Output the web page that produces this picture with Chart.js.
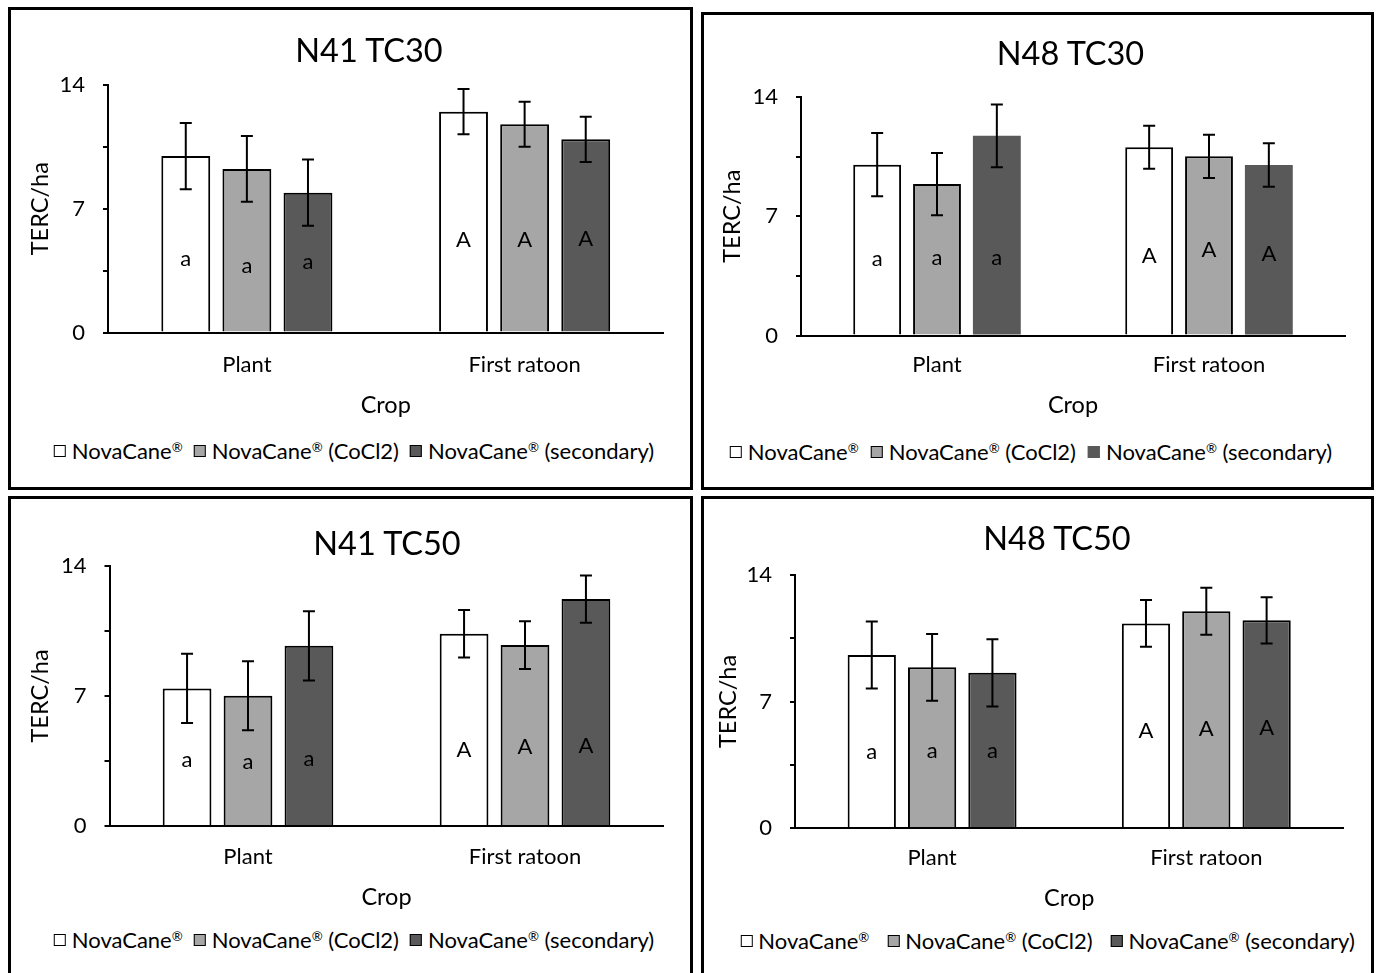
<!DOCTYPE html>
<html>
<head>
<meta charset="utf-8">
<title>TERC/ha by crop</title>
<script src="https://cdn.jsdelivr.net/npm/chart.js@4.4.1/dist/chart.umd.min.js"></script>
<style>
  html, body { margin: 0; padding: 0; background: #fff; }
  body { position: relative; width: 1379px; height: 973px; overflow: hidden; font-family: Lato, sans-serif; color: #000; }
  .frame { position: absolute; border: 3px solid #000; box-sizing: border-box; }
  .panel-canvas { position: absolute; }
  .title { position: absolute; font-size: 32.5px; line-height: 1; white-space: nowrap; transform: translate(-50%, -50%); }
  .legend { position: absolute; display: flex; align-items: center; font-size: 22px; line-height: 1; white-space: nowrap; transform: translate(-50%, -50%); }
  .legend .item { display: flex; align-items: center; }
  .legend .box { width: 12px; height: 12px; box-sizing: border-box; border: 1.5px solid #000; }
  .legend .label { margin-left: 6px; }
  .legend .reg { font-size: 60%; position: relative; top: -0.5em; }
</style>
</head>
<body>
<script>
// values
const crops = ["Plant", "First ratoon"];
const seriesNames = ["NovaCane®", "NovaCane® (CoCl2)", "NovaCane® (secondary)"];
const cropLetters = ["a", "A"];
const panelTitles = ["N41 TC30", "N48 TC30", "N41 TC50", "N48 TC50"];
const yTicks = [0, 7, 14];

// mean TERC/ha, one row per series: [Plant, First ratoon]
const n41tc30Mean = [[9.98, 12.49], [9.25, 11.78], [7.91, 10.93]];
const n41tc30Err  = [[1.87, 1.28], [1.86, 1.27], [1.87, 1.28]];
const n48tc30Mean = [[10.03, 11.05], [8.89, 10.52], [11.72, 10.01]];
const n48tc30Err  = [[1.85, 1.26], [1.83, 1.27], [1.84, 1.28]];
const n41tc50Mean = [[7.41, 10.35], [7.01, 9.74], [9.70, 12.22]];
const n41tc50Err  = [[1.87, 1.28], [1.86, 1.28], [1.86, 1.27]];
const n48tc50Mean = [[9.57, 11.32], [8.89, 12.00], [8.59, 11.49]];
const n48tc50Err  = [[1.85, 1.29], [1.85, 1.30], [1.86, 1.28]];

const panelMeans = [n41tc30Mean, n48tc30Mean, n41tc50Mean, n48tc50Mean];
const panelErrs = [n41tc30Err, n48tc30Err, n41tc50Err, n48tc50Err];

// look
const seriesFill = ["#FFFFFF", "#A6A6A6", "#595959"];

// page layout of each panel (pixels) - frame box, plot box, text anchors
const panelLayout = [
    { frame: [8, 7, 693, 490], plot: [108, 85, 663.5, 332.5], titleX: 369, titleY: 50,
      yTitleX: 40, tickY: 365, cropY: 405, legendX: 354, legendY: 451, legendGap: 11, darkBorder: true,
      letterLevels: [[4.14, 5.22], [3.74, 5.22], [3.97, 5.27]] },
    { frame: [701, 12, 1374, 490], plot: [801, 97, 1345, 335.5], titleX: 1070.5, titleY: 52.5,
      yTitleX: 732, tickY: 365, cropY: 405, legendX: 1031, legendY: 451.5, legendGap: 12, darkBorder: false,
      letterLevels: [[4.51, 4.69], [4.55, 5.0], [4.55, 4.8]] },
    { frame: [8, 496, 693, 990], plot: [109.5, 566, 663.5, 826], titleX: 387, titleY: 543,
      yTitleX: 40, tickY: 857, cropY: 897, legendX: 354, legendY: 940, legendGap: 11, darkBorder: true,
      letterLevels: [[3.55, 4.09], [3.43, 4.25], [3.59, 4.31]] },
    { frame: [701, 496, 1374, 990], plot: [795, 575, 1343.4, 828], titleX: 1057, titleY: 537.5,
      yTitleX: 728, tickY: 858, cropY: 898, legendX: 1047.6, legendY: 941, legendGap: 18, darkBorder: true,
      letterLevels: [[4.22, 5.37], [4.28, 5.46], [4.28, 5.52]] }
];

Chart.defaults.font.family = "Lato";
Chart.defaults.color = "#000";

// error bars: +/- value stored on each dataset
const errorBarPlugin = {
    id: "errorBars",
    afterDatasetsDraw(chart) {
        const ctx = chart.ctx;
        const y = chart.scales.y;
        ctx.save();
        ctx.strokeStyle = "#000";
        ctx.lineWidth = 2;
        chart.data.datasets.forEach((ds, s) => {
            chart.getDatasetMeta(s).data.forEach((bar, c) => {
                const v = ds.data[c], e = ds.errors[c];
                const top = y.getPixelForValue(v + e);
                const bot = y.getPixelForValue(v - e);
                ctx.beginPath();
                ctx.moveTo(bar.x, top); ctx.lineTo(bar.x, bot);
                ctx.moveTo(bar.x - 6, top); ctx.lineTo(bar.x + 6, top);
                ctx.moveTo(bar.x - 6, bot); ctx.lineTo(bar.x + 6, bot);
                ctx.stroke();
            });
        });
        ctx.restore();
    }
};

// significance letters inside the bars
const letterPlugin = {
    id: "letters",
    afterDatasetsDraw(chart, args, opts) {
        const ctx = chart.ctx;
        const y = chart.scales.y;
        ctx.save();
        ctx.font = "22px Lato";
        ctx.fillStyle = "#000";
        ctx.textAlign = "center";
        ctx.textBaseline = "middle";
        chart.data.datasets.forEach((ds, s) => {
            chart.getDatasetMeta(s).data.forEach((bar, c) => {
                ctx.fillText(cropLetters[c], bar.x, y.getPixelForValue(opts.levels[s][c]));
            });
        });
        ctx.restore();
    }
};

function makePanel(k) {
    const lay = panelLayout[k];
    const [fl, ft, fr, fb] = lay.frame;
    const [pl, pt, pr, pb] = lay.plot;

    const frame = document.createElement("div");
    frame.className = "frame";
    frame.style.left = fl + "px";
    frame.style.top = ft + "px";
    frame.style.width = (fr - fl) + "px";
    frame.style.height = (fb - ft) + "px";
    document.body.appendChild(frame);

    const cL = fl + 3, cT = ft + 3;
    const cW = Math.ceil(pr - cL + 12);
    const cH = Math.ceil(lay.cropY - cT + 20);
    const canvas = document.createElement("canvas");
    canvas.className = "panel-canvas";
    canvas.width = cW;
    canvas.height = cH;
    canvas.style.left = cL + "px";
    canvas.style.top = cT + "px";
    document.body.appendChild(canvas);

    const tickFont = 22, axisTitleFont = 23.5;
    const xAxisHeight = lay.cropY - pb + axisTitleFont * 1.2 / 2;

    new Chart(canvas, {
        type: "bar",
        data: {
            labels: crops,
            datasets: seriesNames.map((name, s) => ({
                label: name,
                data: panelMeans[k][s],
                errors: panelErrs[k][s],
                backgroundColor: seriesFill[s],
                borderColor: "#000",
                borderWidth: (s === 2 && !lay.darkBorder) ? 0 : 2,
                categoryPercentage: 0.66,
                barPercentage: 0.8
            }))
        },
        options: {
            responsive: false,
            animation: false,
            events: [],
            layout: {
                padding: {
                    left: 0,
                    top: pt - cT,
                    right: cL + cW - pr,
                    bottom: cH - (pb - cT) - xAxisHeight
                }
            },
            plugins: {
                legend: { display: false },
                title: { display: false },
                tooltip: { enabled: false },
                letters: { levels: lay.letterLevels }
            },
            scales: {
                x: {
                    grid: { display: false, drawTicks: false },
                    border: { display: true, color: "#000", width: 2, z: 1 },
                    ticks: {
                        font: { size: tickFont },
                        color: "#000",
                        maxRotation: 0,
                        padding: lay.tickY - pb - tickFont * 1.2 / 2
                    },
                    title: {
                        display: true,
                        text: "Crop",
                        font: { size: axisTitleFont },
                        color: "#000",
                        padding: { top: 0, bottom: 0 }
                    },
                    afterFit: s => { s.height = xAxisHeight; }
                },
                y: {
                    min: 0,
                    max: 14,
                    grid: { drawOnChartArea: false, drawTicks: true, tickLength: 5, color: "#000", lineWidth: 2 },
                    border: { display: true, color: "#000", width: 2 },
                    ticks: {
                        stepSize: 3.5,
                        font: { size: tickFont },
                        color: "#000",
                        padding: 18,
                        callback: v => yTicks.includes(v) ? v : ""
                    },
                    title: {
                        display: true,
                        text: "TERC/ha",
                        font: { size: axisTitleFont },
                        color: "#000",
                        padding: { top: lay.yTitleX - cL - axisTitleFont * 1.2 / 2, bottom: 0 }
                    },
                    afterFit: s => { s.width = pl - cL; }
                }
            }
        },
        plugins: [errorBarPlugin, letterPlugin]
    });

    // panel title
    const title = document.createElement("div");
    title.className = "title";
    title.textContent = panelTitles[k];
    title.style.left = lay.titleX + "px";
    title.style.top = lay.titleY + "px";
    document.body.appendChild(title);

    // legend under the axis title
    const legend = document.createElement("div");
    legend.className = "legend";
    legend.style.left = lay.legendX + "px";
    legend.style.top = lay.legendY + "px";
    seriesNames.forEach((name, s) => {
        const item = document.createElement("span");
        item.className = "item";
        if (s > 0) item.style.marginLeft = lay.legendGap + "px";
        const box = document.createElement("span");
        box.className = "box";
        box.style.background = seriesFill[s];
        if (s === 2 && !lay.darkBorder) box.style.borderColor = seriesFill[s];
        const label = document.createElement("span");
        label.className = "label";
        label.innerHTML = name.replace("®", '<span class="reg">®</span>');
        item.appendChild(box);
        item.appendChild(label);
        legend.appendChild(item);
    });
    document.body.appendChild(legend);
}

panelLayout.forEach((lay, k) => makePanel(k));
</script>
</body>
</html>
